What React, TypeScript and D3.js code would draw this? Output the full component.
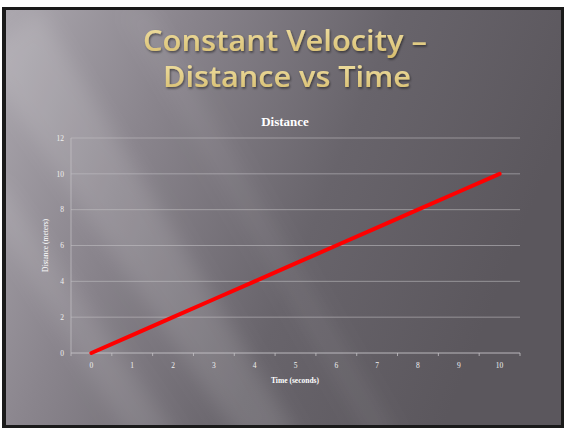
import React from "react";
import * as d3 from "d3";

const timeCategories = [0, 1, 2, 3, 4, 5, 6, 7, 8, 9, 10];
const distanceValues = [0, 1, 2, 3, 4, 5, 6, 7, 8, 9, 10];
const yTicks = [0, 2, 4, 6, 8, 10, 12];
const titleLines = ["Constant Velocity –", "Distance vs Time"];
const chartTitle = "Distance";
const xAxisTitle = "Time (seconds)";
const yAxisTitle = "Distance (meters)";

export default function App() {
  const W = 565, H = 428;
  const left = 71, right = 520, top = 138, bottom = 353;
  const x = d3.scaleBand<number>().domain(timeCategories).range([left, right]);
  const y = d3.scaleLinear().domain([0, 12]).range([bottom, top]);
  const line = d3
    .line<number>()
    .x((_, i) => (x(timeCategories[i]) as number) + x.bandwidth() / 2)
    .y((d) => y(d));
  const serif = "'Liberation Serif', 'DejaVu Serif', serif";
  return (
    <svg width={W} height={H} style={{ position: "absolute", left: 0, top: 0 }}>
      <defs>
        <linearGradient id="bg" x1="0" y1="0" x2="1" y2="0.3">
          <stop offset="0" stopColor="#aba7ae" />
          <stop offset="0.3" stopColor="#8a858d" />
          <stop offset="0.65" stopColor="#68646b" />
          <stop offset="1" stopColor="#5b575d" />
        </linearGradient>
        <linearGradient id="gold" x1="0" y1="0" x2="0" y2="1">
          <stop offset="0" stopColor="#f3e4aa" />
          <stop offset="1" stopColor="#d6bc6c" />
        </linearGradient>
        <filter id="sh" x="-10%" y="-10%" width="120%" height="130%">
          <feDropShadow dx="1" dy="1.5" stdDeviation="1" floodColor="#000" floodOpacity="0.5" />
        </filter>
        <filter id="blur" x="-20%" y="-20%" width="140%" height="140%">
          <feGaussianBlur stdDeviation="10" />
        </filter>
        <clipPath id="slide">
          <rect x={6} y={10} width={555} height={415} />
        </clipPath>
      </defs>
      <rect x={0} y={0} width={W} height={H} fill="#ffffff" />
      <rect x={2} y={7} width={562} height={421} fill="#1a1a1a" />
      <rect x={6} y={10} width={555} height={415} fill="url(#bg)" />
      <g clipPath="url(#slide)">
        <g filter="url(#blur)" fill="#ffffff">
          <polygon points="-20,60 40,10 300,440 240,440" opacity={0.12} />
          <polygon points="-20,200 0,180 180,440 130,440" opacity={0.1} />
          <polygon points="120,10 150,10 400,440 370,440" opacity={0.06} />
        </g>
      </g>
      <g filter="url(#sh)" fontFamily="'Open Sans', 'DejaVu Sans', sans-serif" fontWeight={600} fontSize={29} textAnchor="middle" fill="url(#gold)">
        <text x={285} y={51} textLength={284} lengthAdjust="spacingAndGlyphs">{titleLines[0]}</text>
        <text x={287} y={87} textLength={248} lengthAdjust="spacingAndGlyphs">{titleLines[1]}</text>
      </g>
      <text x={285} y={126} textAnchor="middle" fontFamily={serif} fontWeight="bold" fontSize={13} fill="#ffffff">
        {chartTitle}
      </text>
      {yTicks.map((t) => (
        <g key={t}>
          <line x1={left} x2={right} y1={y(t)} y2={y(t)} stroke="#c4c2c6" strokeOpacity={t === 0 ? 0.9 : 0.55} strokeWidth={1} />
          <text x={64} y={y(t) + 2.7} textAnchor="end" fontFamily={serif} fontSize={7.5} fill="#f0f0f0">
            {t}
          </text>
        </g>
      ))}
      <line x1={left} x2={left} y1={top} y2={bottom} stroke="#c4c2c6" strokeOpacity={0.7} />
      {timeCategories.map((c) => (
        <g key={c}>
          <line x1={(x(c) as number) + x.bandwidth()} x2={(x(c) as number) + x.bandwidth()} y1={bottom} y2={bottom + 3} stroke="#c4c2c6" strokeOpacity={0.8} />
          <text x={(x(c) as number) + x.bandwidth() / 2} y={bottom + 15} textAnchor="middle" fontFamily={serif} fontSize={7.5} fill="#f0f0f0">
            {c}
          </text>
        </g>
      ))}
      <line x1={left} x2={left} y1={bottom} y2={bottom + 3} stroke="#c4c2c6" strokeOpacity={0.8} />
      <text x={295} y={383} textAnchor="middle" fontFamily={serif} fontWeight="bold" fontSize={7.5} fill="#ffffff">
        {xAxisTitle}
      </text>
      <text transform={`translate(48,${(top + bottom) / 2}) rotate(-90)`} textAnchor="middle" fontFamily={serif} fontSize={7.5} fill="#ffffff">
        {yAxisTitle}
      </text>
      <path d={line(distanceValues) || ""} fill="none" stroke="#ff0000" strokeWidth={4} strokeLinecap="round" strokeLinejoin="round" />
    </svg>
  );
}
